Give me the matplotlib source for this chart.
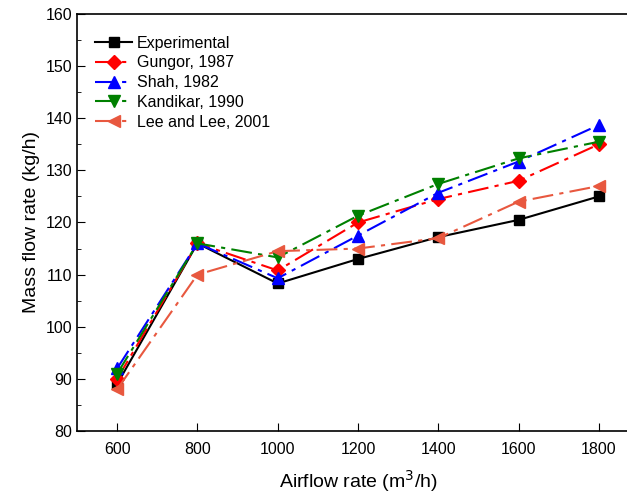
import matplotlib
matplotlib.use("Agg")
import matplotlib.pyplot as plt
from matplotlib.ticker import MultipleLocator

plt.rcParams['font.family'] = ['Liberation Sans', 'DejaVu Sans']

airflow = [600, 800, 1000, 1200, 1400, 1600, 1800]
experimental = [89.0, 116.0, 108.3, 113.0, 117.2, 120.5, 125.0]
gungor = [90.0, 116.0, 110.8, 120.0, 124.5, 128.0, 135.0]
shah = [92.0, 116.0, 109.3, 117.5, 125.7, 131.7, 138.7]
kandikar = [91.0, 116.0, 113.3, 121.3, 127.4, 132.3, 135.5]
leelee = [88.0, 110.0, 114.5, 115.0, 117.0, 124.0, 127.0]

labels = ["Experimental", "Gungor, 1987", "Shah, 1982", "Kandikar, 1990", "Lee and Lee, 2001"]

fig = plt.figure(figsize=(6.27, 4.94), dpi=100)
ax = fig.add_axes([77/627, 1-431/494, 562/627, 417/494])

dd = (0, (10, 3, 2, 3))
ax.plot(airflow, experimental, color='black', ls='-', marker='s', ms=7, lw=1.5, label=labels[0])
ax.plot(airflow, gungor, color='red', ls=dd, marker='D', ms=7, lw=1.5, label=labels[1])
ax.plot(airflow, shah, color='blue', ls=dd, marker='^', ms=8, lw=1.5, label=labels[2])
ax.plot(airflow, kandikar, color='green', ls=dd, marker='v', ms=8, lw=1.5, label=labels[3])
ax.plot(airflow, leelee, color='#E8583F', ls=dd, marker='<', ms=8, lw=1.5, label=labels[4])

ax.set_xlim(500, 1900)
ax.set_ylim(80, 160)
ax.set_xticks(airflow)
ax.yaxis.set_major_locator(MultipleLocator(10))
ax.yaxis.set_minor_locator(MultipleLocator(5))
ax.tick_params(which='both', direction='in', labelsize=11.5)
ax.tick_params(which='major', length=6)
ax.tick_params(which='minor', length=3)
ax.tick_params(axis='x', pad=8)
ax.set_xlabel("Airflow rate (m$^3$/h)", fontsize=14, labelpad=8)
ax.set_ylabel("Mass flow rate (kg/h)", fontsize=14)
for s in ax.spines.values():
    s.set_linewidth(1.2)

ax.legend(loc='upper left', frameon=False, fontsize=11.5, handlelength=2.3,
          handletextpad=0.3, labelspacing=0.3, borderaxespad=0.3,
          bbox_to_anchor=(0.013, 0.975))

fig.savefig("out.png", dpi=100)
